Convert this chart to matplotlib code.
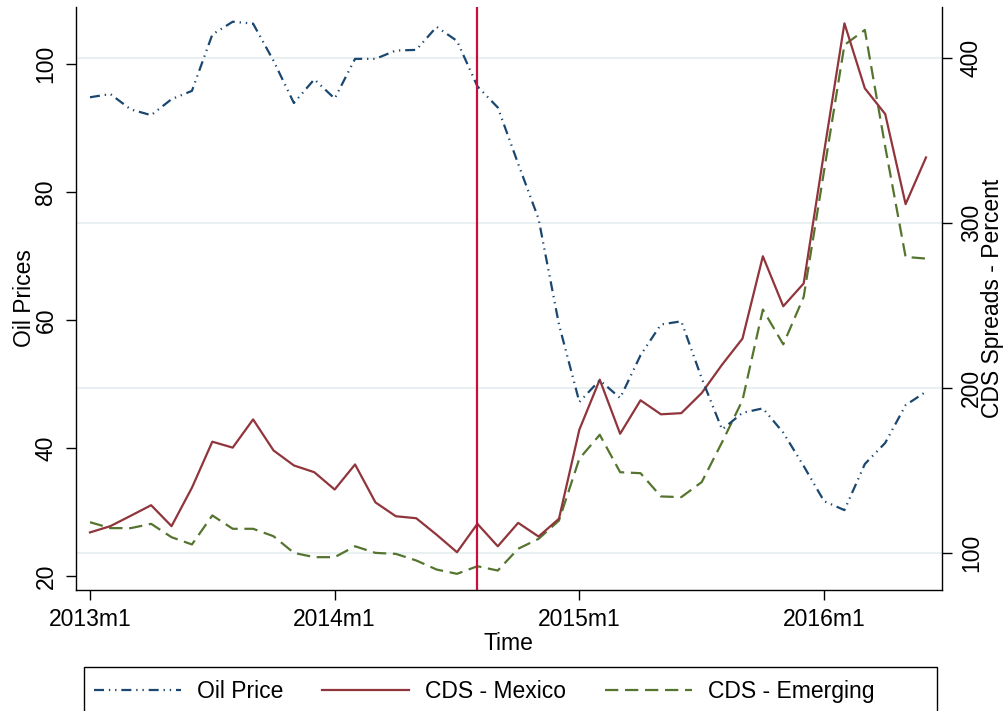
import matplotlib
matplotlib.use("Agg")
import matplotlib.pyplot as plt
from matplotlib.lines import Line2D
from matplotlib.patches import Rectangle

# ---- data (monthly, 2013m1 .. 2016m6) ----
t = list(range(42))
oil_price = [94.8, 95.3, 92.9, 92.0, 94.5, 95.8, 104.6, 106.6, 106.3, 100.5, 93.9, 97.6,
             94.6, 100.8, 100.8, 102.1, 102.2, 105.8, 103.6, 96.5, 93.2, 84.4, 75.8, 59.3,
             47.2, 50.6, 47.8, 54.5, 59.3, 59.8, 50.9, 42.9, 45.5, 46.2, 42.4, 37.2,
             31.7, 30.3, 37.5, 40.8, 46.7, 48.8]
cds_mexico = [112.3, 116.1, 122.4, 128.8, 116.1, 139.4, 167.3, 163.7, 180.8, 162.0, 152.9, 148.8,
              138.3, 153.5, 130.5, 122.1, 120.9, 110.9, 100.3, 117.5, 103.9, 118.1, 109.8, 120.6,
              174.6, 204.9, 172.1, 192.4, 183.9, 184.6, 196.8, 214.0, 229.8, 279.7, 249.4, 263.2,
              342.7, 420.9, 381.5, 365.9, 311.3, 339.6]
cds_emerging = [118.5, 114.9, 114.9, 117.5, 109.4, 105.0, 122.6, 114.5, 114.5, 110.0, 99.9, 97.3,
                97.3, 103.9, 99.9, 99.3, 95.3, 89.8, 87.2, 91.8, 89.2, 102.4, 108.4, 119.5,
                157.0, 171.5, 148.8, 148.2, 134.1, 133.7, 142.8, 167.0, 192.4, 247.4, 226.3, 255.0,
                331.4, 407.8, 416.9, 346.1, 279.3, 278.3]
xtick_pos = [0, 12, 24, 36]
xtick_labels = ["2013m1", "2014m1", "2015m1", "2016m1"]
left_ticks = [20, 40, 60, 80, 100]
right_ticks = [100, 200, 300, 400]
event_month = 19  # 2014m8
legend_labels = ["Oil Price", "CDS - Mexico", "CDS - Emerging"]

NAVY = "#1a476f"
MAROON = "#90353b"
GREEN = "#55752f"
VLINE = "#c4103a"
GRID = "#e8f0f2"
FS = 16.5

plt.rcParams["font.family"] = ["Liberation Sans", "DejaVu Sans"]

fig = plt.figure(figsize=(10.08, 7.11), dpi=100)
W, H = 1008, 711
ax = fig.add_axes([75.5 / W, 1 - 589.5 / H, (941.7 - 75.5) / W, (589.5 - 7) / H])
ax2 = ax.twinx()
ax.set_zorder(ax2.get_zorder() + 1)
ax.patch.set_visible(False)

# right axis: grid + CDS lines
for v in right_ticks:
    ax2.axhline(v, color=GRID, lw=1.5, zorder=0)
l_mex, = ax2.plot(t, cds_mexico, color=MAROON, lw=1.6, zorder=3)
l_em, = ax2.plot(t, cds_emerging, color=GREEN, lw=1.6, dashes=(6, 3), zorder=2)
ax2.set_ylim(77.7, 430.8)
ax2.set_yticks(right_ticks)
ax2.set_yticklabels([str(v) for v in right_ticks], rotation=90, va="center", fontsize=FS)
ax2.set_ylabel("CDS Spreads - Percent", fontsize=FS, labelpad=-1)

# left axis: oil + vertical line
l_oil, = ax.plot(t, oil_price, color=NAVY, lw=1.6, dashes=(4.5, 2.2, 0.6, 2.2, 0.6, 2.2), zorder=3)
ax.axvline(event_month, color=VLINE, lw=1.6, zorder=4)
ax.set_ylim(17.9, 108.9)
ax.set_yticks(left_ticks)
ax.set_yticklabels([str(v) for v in left_ticks], rotation=90, va="center", fontsize=FS)
ax.set_ylabel("Oil Prices", fontsize=FS, labelpad=-1)
ax.set_xlim(-0.71, 41.77)
ax.set_xticks(xtick_pos)
ax.set_xticklabels(xtick_labels, fontsize=FS)
ax.set_xlabel("Time", fontsize=FS, labelpad=1)

for a in (ax, ax2):
    a.tick_params(direction="out", length=7, width=1.0, pad=6, color="black")
    a.spines["top"].set_visible(False)
    for s in ("left", "right", "bottom"):
        a.spines[s].set_linewidth(1.0)
ax2.spines["left"].set_visible(False)
ax2.spines["bottom"].set_visible(False)
ax.spines["right"].set_visible(False)

# legend
handles = [Line2D([], [], color=NAVY, lw=1.6, dashes=(4.5, 2.2, 0.6, 2.2, 0.6, 2.2)),
           Line2D([], [], color=MAROON, lw=1.6),
           Line2D([], [], color=GREEN, lw=1.6, dashes=(6, 3))]
fig.legend(handles, legend_labels, loc="center left",
           bbox_to_anchor=(93.5 / W, 1 - 691.5 / H), ncol=3, frameon=False,
           fontsize=FS, handlelength=3.8, handletextpad=0.7, columnspacing=1.7,
           borderpad=0, borderaxespad=0)
fig.patches.append(Rectangle((83.5 / W, -0.05), (937 - 83.5) / W, 0.05 + (1 - 667.3 / H),
                             transform=fig.transFigure, fill=False, ec="black", lw=1.0))

fig.savefig("out.png", dpi=100)
